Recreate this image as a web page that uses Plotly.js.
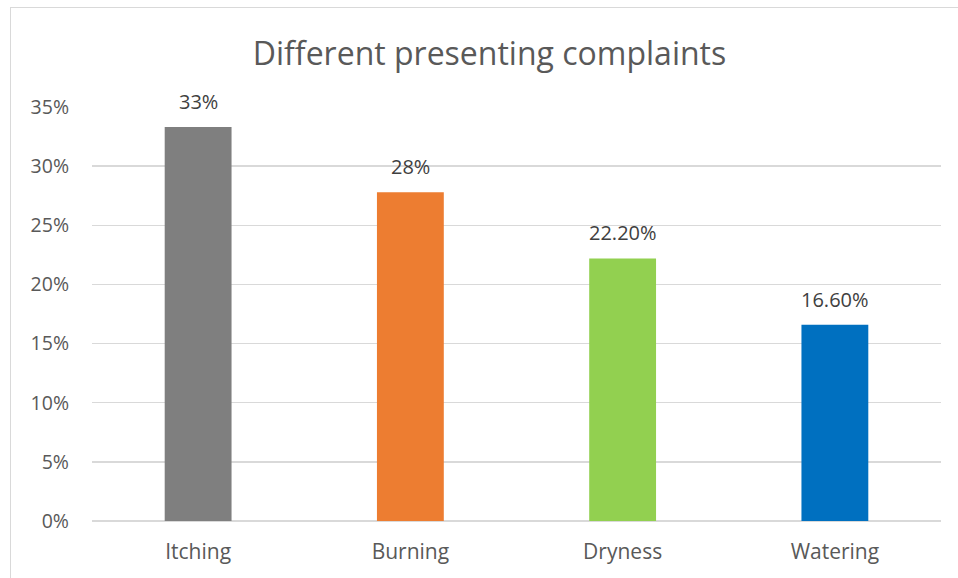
<!DOCTYPE html>
<html>
<head>
<meta charset="utf-8">
<script src="https://cdn.plot.ly/plotly-3.0.1.min.js"></script>
<style>
  html, body { margin: 0; padding: 0; background: #fff; }
  #wrap { position: relative; width: 958px; height: 578px; overflow: hidden; }
  #frame { position: absolute; left: 10px; top: 7px; width: 1000px; height: 700px;
           border-left: 1px solid #d9d9d9; border-top: 1px solid #d9d9d9; pointer-events: none; }
  #chart { position: absolute; left: 0; top: 0; width: 958px; height: 578px; }
</style>
</head>
<body>
<div id="wrap">
  <div id="chart"></div>
  <div id="frame"></div>
</div>
<script>
// Presenting complaints and their share of patients
const categories = ["Itching", "Burning", "Dryness", "Watering"];
const shares = [0.333, 0.278, 0.222, 0.166];
const labelDecimals = [0, 0, 2, 2];
const barColors = ["#7f7f7f", "#ed7d31", "#92d050", "#0070c0"];
const yTickValues = [0, 0.05, 0.10, 0.15, 0.20, 0.25, 0.30, 0.35];
const yTickLabels = ["0%", "5%", "10%", "15%", "20%", "25%", "30%", "35%"];

const font = "'Open Sans', 'Noto Sans', sans-serif";

function asPercent(v, digits) {
  return (v * 100).toFixed(digits) + "%";
}

const trace = {
  type: "bar",
  x: categories,
  y: shares,
  marker: { color: barColors },
  hoverinfo: "skip"
};

// value labels above each bar
const labels = categories.map((c, i) => ({
  x: c,
  y: shares[i],
  xref: "x",
  yref: "y",
  text: asPercent(shares[i], labelDecimals[i]),
  showarrow: false,
  yanchor: "bottom",
  yshift: 10,
  font: { family: font, size: 20, color: "#404040" }
}));

const layout = {
  width: 958,
  height: 578,
  margin: { l: 92, r: 17, t: 107, b: 57 },
  paper_bgcolor: "rgba(0,0,0,0)",
  plot_bgcolor: "rgba(0,0,0,0)",
  bargap: 0.685,
  showlegend: false,
  font: { family: font, color: "#595959" },
  title: {
    text: "Different presenting complaints",
    font: { family: font, size: 32, color: "#595959" },
    x: 0.511,
    xanchor: "center",
    y: 0.907,
    yanchor: "middle"
  },
  xaxis: {
    showgrid: false,
    showline: false,
    zeroline: false,
    ticks: "",
    ticklabelstandoff: 16,
    tickfont: { family: font, size: 21, color: "#595959" }
  },
  yaxis: {
    range: [0, 0.35],
    tickvals: yTickValues,
    ticktext: yTickLabels,
    showgrid: true,
    gridcolor: "#d9d9d9",
    gridwidth: 1.5,
    zeroline: true,
    zerolinecolor: "#d9d9d9",
    zerolinewidth: 1.5,
    showline: false,
    ticks: "",
    ticklabelstandoff: 22,
    tickfont: { family: font, size: 19.5, color: "#595959" }
  },
  annotations: labels
};

Plotly.newPlot("chart", [trace], layout, { displayModeBar: false, staticPlot: true });
</script>
</body>
</html>
